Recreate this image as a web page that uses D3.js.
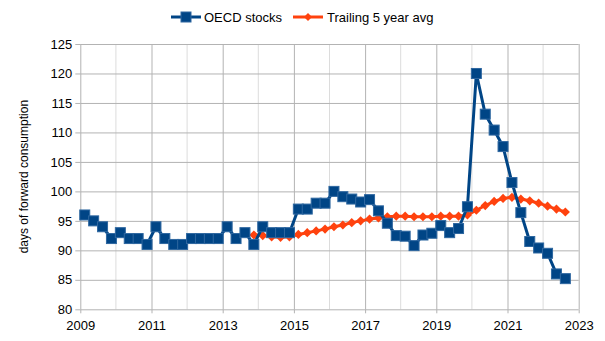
<!DOCTYPE html>
<html>
<head>
<meta charset="utf-8">
<script src="https://cdn.jsdelivr.net/npm/d3@7"></script>
<style>
  body { margin: 0; background: #fff; }
  svg { display: block; font-family: "Liberation Sans", Arial, sans-serif; }
</style>
</head>
<body>
<svg id="chart" width="605" height="341"></svg>
<script>
// Quarterly observations (plotted at mid-quarter)
const quarters = [
  "2009Q1","2009Q2","2009Q3","2009Q4",
  "2010Q1","2010Q2","2010Q3","2010Q4",
  "2011Q1","2011Q2","2011Q3","2011Q4",
  "2012Q1","2012Q2","2012Q3","2012Q4",
  "2013Q1","2013Q2","2013Q3","2013Q4",
  "2014Q1","2014Q2","2014Q3","2014Q4",
  "2015Q1","2015Q2","2015Q3","2015Q4",
  "2016Q1","2016Q2","2016Q3","2016Q4",
  "2017Q1","2017Q2","2017Q3","2017Q4",
  "2018Q1","2018Q2","2018Q3","2018Q4",
  "2019Q1","2019Q2","2019Q3","2019Q4",
  "2020Q1","2020Q2","2020Q3","2020Q4",
  "2021Q1","2021Q2","2021Q3","2021Q4",
  "2022Q1","2022Q2","2022Q3"
];

// OECD commercial stocks, days of forward consumption
const oecdStocks = [
  96, 95, 94, 92,
  93, 92, 92, 91,
  94, 92, 91, 91,
  92, 92, 92, 92,
  94, 92, 93, 91,
  94, 93, 93, 93,
  97, 97, 98, 98,
  100, 99.1, 98.7, 98.2,
  98.6, 96.7, 94.6, 92.5,
  92.4, 90.8, 92.6, 92.9,
  94.2, 93.0, 93.7, 97.4,
  120, 113.1, 110.4, 107.6,
  101.5, 96.4, 91.5, 90.4,
  89.5, 86.0, 85.2
];

// Trailing five-year average (available from 2013Q4)
const trailingAvg = [
  null, null, null, null,
  null, null, null, null,
  null, null, null, null,
  null, null, null, null,
  null, null, null, 92.6,
  92.5, 92.3, 92.2, 92.3,
  92.7, 93.0, 93.3, 93.6,
  94.0, 94.3, 94.7, 95.0,
  95.3, 95.5, 95.7, 95.8,
  95.8, 95.7, 95.7, 95.7,
  95.8, 95.8, 95.8, 96.0,
  96.8, 97.6, 98.3, 98.8,
  99.0, 98.7, 98.4, 98.0,
  97.5, 97.0, 96.5
];

const yearTicks = [2009, 2011, 2013, 2015, 2017, 2019, 2021, 2023];
const minorYears = [2010, 2012, 2014, 2016, 2018, 2020, 2022];
const valueTicks = [80, 85, 90, 95, 100, 105, 110, 115, 120, 125];

const seriesNames = ["OECD stocks", "Trailing 5 year avg"];
const colors = ["#004586", "#ff420e"];

function quarterToYear(q) {
  const yr = +q.slice(0, 4), n = +q.slice(5);
  return yr + (n - 1) * 0.25 + 0.125;
}

const svg = d3.select("#chart");
const plot = { left: 80.3, right: 578.7, top: 44, bottom: 309.3 };

const x = d3.scaleLinear().domain([2009, 2023]).range([plot.left, plot.right]);
const y = d3.scaleLinear().domain([80, 125]).range([plot.bottom, plot.top]);

// Minor vertical gridlines
svg.append("g")
  .selectAll("line").data(minorYears).join("line")
  .attr("x1", d => x(d)).attr("x2", d => x(d))
  .attr("y1", plot.top).attr("y2", plot.bottom)
  .attr("stroke", "#dcdcdc").attr("stroke-width", 1);

// Horizontal gridlines with short ticks and labels
const yAxis = svg.append("g")
  .attr("transform", `translate(${plot.left},0)`)
  .call(d3.axisLeft(y).tickValues(valueTicks).tickSize(5).tickPadding(3));
yAxis.select(".domain").remove();
yAxis.selectAll(".tick line").clone()
  .attr("x2", plot.right - plot.left);
yAxis.selectAll(".tick line").attr("stroke", "#b3b3b3");
yAxis.selectAll(".tick text").attr("font-size", 13).attr("fill", "#000")
  .attr("font-family", "Liberation Sans, Arial, sans-serif");

// Major vertical gridlines with ticks and labels
const xAxis = svg.append("g")
  .attr("transform", `translate(0,${plot.bottom})`)
  .call(d3.axisBottom(x).tickValues(yearTicks).tickFormat(d3.format("d")).tickSize(4).tickPadding(7));
xAxis.select(".domain").remove();
xAxis.selectAll(".tick line").clone()
  .attr("y2", -(plot.bottom - plot.top));
xAxis.selectAll(".tick line").attr("stroke", "#b3b3b3");
xAxis.selectAll(".tick text").attr("font-size", 13).attr("fill", "#000")
  .attr("font-family", "Liberation Sans, Arial, sans-serif");

// Axis title
svg.append("text")
  .attr("transform", `translate(28,${(plot.top + plot.bottom) / 2}) rotate(-90)`)
  .attr("text-anchor", "middle")
  .attr("font-size", 12)
  .attr("fill", "#000")
  .text("days of forward consumption");

const stockPts = quarters.map((q, i) => ({ t: quarterToYear(q), v: oecdStocks[i] }));
const avgPts = quarters.map((q, i) => ({ t: quarterToYear(q), v: trailingAvg[i] }))
  .filter(d => d.v != null);

const line = d3.line().x(d => x(d.t)).y(d => y(d.v));

const diamond = r => `M0,${-r}L${r},0L0,${r}L${-r},0Z`;

// Trailing average (drawn beneath the stocks series)
svg.append("path").datum(avgPts)
  .attr("d", line).attr("fill", "none")
  .attr("stroke", colors[1]).attr("stroke-width", 3).attr("stroke-linejoin", "round");
svg.append("g").selectAll("path").data(avgPts).join("path")
  .attr("transform", d => `translate(${x(d.t)},${y(d.v)})`)
  .attr("d", diamond(4.6))
  .attr("fill", colors[1]);

// OECD stocks
svg.append("path").datum(stockPts)
  .attr("d", line).attr("fill", "none")
  .attr("stroke", colors[0]).attr("stroke-width", 3).attr("stroke-linejoin", "round");
svg.append("g").selectAll("rect").data(stockPts).join("rect")
  .attr("x", d => x(d.t) - 5).attr("y", d => y(d.v) - 5)
  .attr("width", 10).attr("height", 10)
  .attr("fill", colors[0])
  .attr("stroke", "#2e67a0").attr("stroke-width", 1);

// Legend
const legend = svg.append("g").attr("font-size", 13).attr("fill", "#000");
const legendItems = [
  { name: seriesNames[0], color: colors[0], x0: 171, tx: 204, marker: "square" },
  { name: seriesNames[1], color: colors[1], x0: 293, tx: 327, marker: "diamond" }
];
legendItems.forEach(it => {
  const ly = 17;
  legend.append("line")
    .attr("x1", it.x0).attr("x2", it.x0 + 30)
    .attr("y1", ly).attr("y2", ly)
    .attr("stroke", it.color).attr("stroke-width", 3);
  if (it.marker === "square") {
    legend.append("rect")
      .attr("x", it.x0 + 10).attr("y", ly - 5).attr("width", 10).attr("height", 10)
      .attr("fill", it.color).attr("stroke", "#2e67a0").attr("stroke-width", 1);
  } else {
    legend.append("path")
      .attr("transform", `translate(${it.x0 + 15},${ly})`)
      .attr("d", diamond(4)).attr("fill", it.color);
  }
  legend.append("text")
    .attr("x", it.tx).attr("y", ly).attr("dy", "0.35em")
    .text(it.name);
});
</script>
</body>
</html>
